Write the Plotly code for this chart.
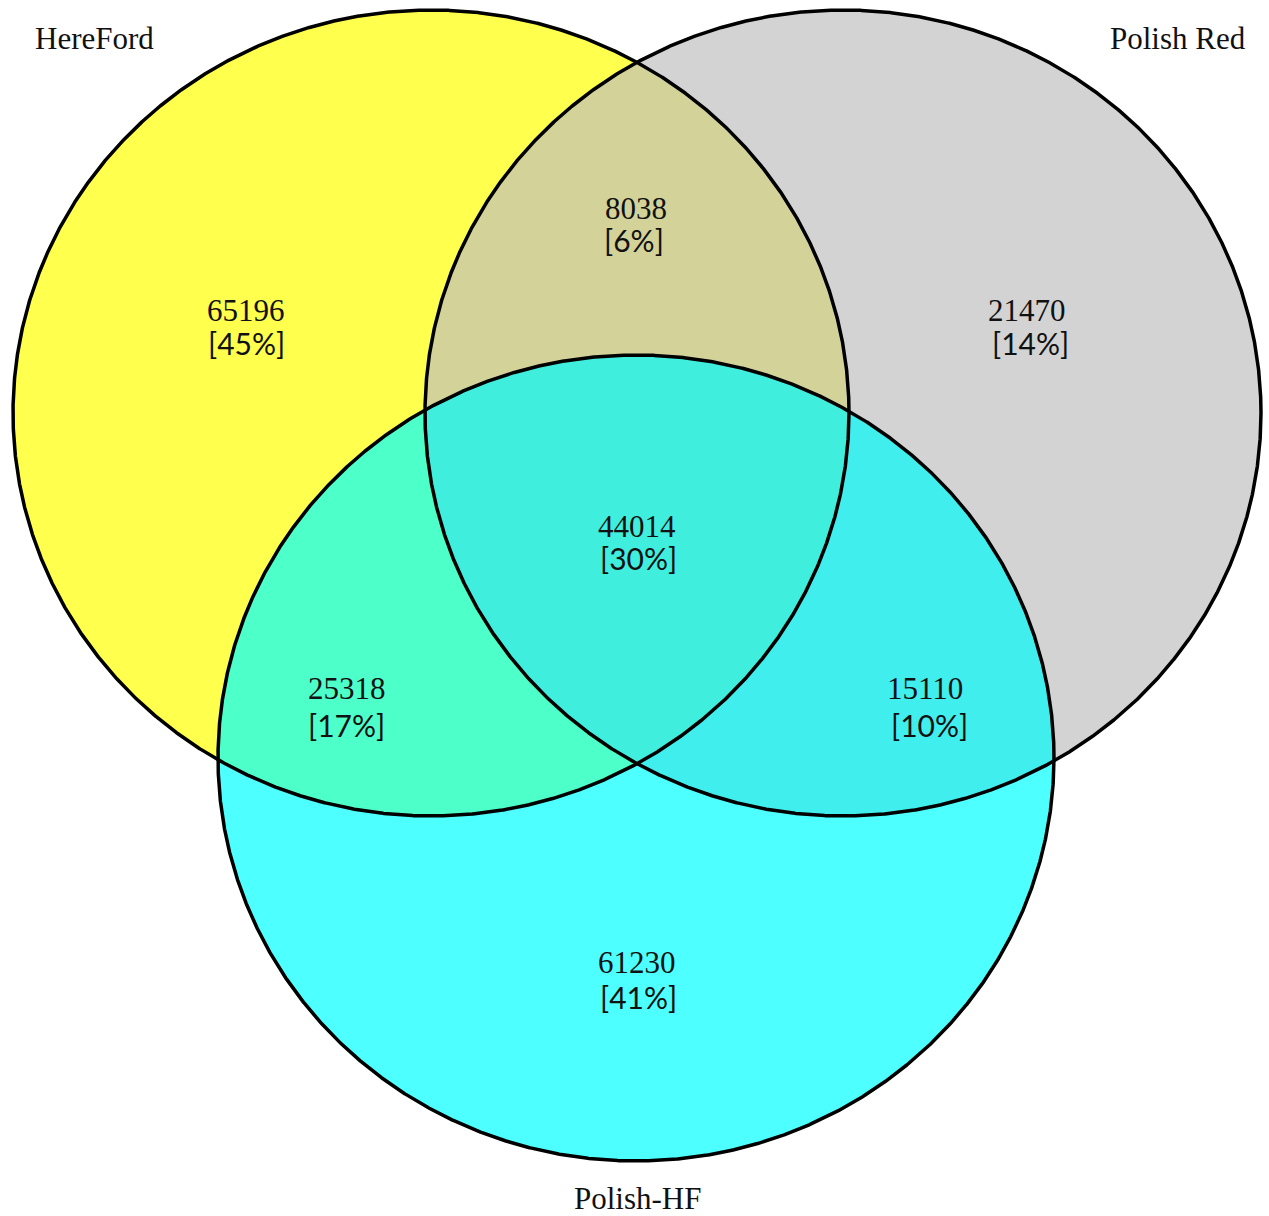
import numpy as np
import plotly.graph_objects as go

# ---- data ----
set_names = ["HereFord", "Polish Red", "Polish-HF"]
region_keys = ["A", "AB", "B", "ABC", "AC", "BC", "C"]
region_counts = [65196, 8038, 21470, 44014, 25318, 15110, 61230]
region_pcts = ["45%", "6%", "14%", "30%", "17%", "10%", "41%"]

# ---- layout / style (pixel space) ----
W, H = 1269, 1216
RX, RY = 418, 403
centers = {"A": (431, 413), "B": (843, 413), "C": (636, 758)}
fills = {
    "A": "#FFFF4D", "B": "#D3D3D3", "C": "#4DFFFF",
    "AB": "#D3D399", "AC": "#4DFFC8", "BC": "#40EEEE", "ABC": "#40EEDD",
}
count_pos = {"A": (246, 310), "AB": (636, 208), "B": (1027, 310), "ABC": (637, 526),
             "AC": (347, 688), "BC": (925, 688), "C": (637, 962)}
pct_pos = {"A": (246, 343), "AB": (634, 240), "B": (1030, 343), "ABC": (638, 558),
           "AC": (346, 725), "BC": (929, 725), "C": (638, 997)}
name_pos = [(94, 38), (1178, 38), (637, 1198)]

t = np.linspace(0, 2 * np.pi, 3000, endpoint=False)


def ell(k):
    cx, cy = centers[k]
    return cx + RX * np.cos(t), cy + RY * np.sin(t)


def inside(k, x, y):
    cx, cy = centers[k]
    return ((x - cx) / RX) ** 2 + ((y - cy) / RY) ** 2 <= 1.0 + 1e-9


def region(keys):
    xs, ys = [], []
    for k in keys:
        x, y = ell(k)
        m = np.ones_like(x, dtype=bool)
        for o in keys:
            if o != k:
                m &= inside(o, x, y)
        xs.append(x[m]); ys.append(y[m])
    x = np.concatenate(xs); y = np.concatenate(ys)
    mx, my = x.mean(), y.mean()
    order = np.argsort(np.arctan2(y - my, x - mx))
    return x[order], y[order]


fig = go.Figure()
for keys in ["A", "B", "C", "AB", "AC", "BC", "ABC"]:
    x, y = region(list(keys))
    fig.add_trace(go.Scatter(x=np.append(x, x[0]), y=np.append(y, y[0]), mode="lines",
                             fill="toself", fillcolor=fills[keys],
                             line=dict(width=0, color=fills[keys]),
                             hoverinfo="skip", showlegend=False))
for k in ["A", "B", "C"]:
    x, y = ell(k)
    fig.add_trace(go.Scatter(x=np.append(x, x[0]), y=np.append(y, y[0]), mode="lines",
                             line=dict(width=3.5, color="black"),
                             hoverinfo="skip", showlegend=False))

num_font = dict(family="Liberation Serif, Times New Roman, serif", size=31, color="#111111")
pct_font = dict(family="Lato, Open Sans, sans-serif", size=30, color="#111111")
name_font = dict(family="Liberation Serif, Times New Roman, serif", size=31, color="#111111")
for k, c, p in zip(region_keys, region_counts, region_pcts):
    fig.add_annotation(x=count_pos[k][0], y=count_pos[k][1], text=str(c), showarrow=False,
                       font=num_font, xanchor="center", yanchor="middle", borderpad=0)
    fig.add_annotation(x=pct_pos[k][0], y=pct_pos[k][1], text=f"[{p}]", showarrow=False,
                       font=pct_font, xanchor="center", yanchor="middle", borderpad=0)
for n, (x, y) in zip(set_names, name_pos):
    fig.add_annotation(x=x, y=y, text=n, showarrow=False, font=name_font,
                       xanchor="center", yanchor="middle")

fig.update_layout(
    width=W, height=H, margin=dict(l=0, r=0, t=0, b=0),
    paper_bgcolor="white", plot_bgcolor="white",
    xaxis=dict(range=[0, W], visible=False, fixedrange=True),
    yaxis=dict(range=[H, 0], visible=False, fixedrange=True),
)
fig.write_html("out.html", config={"displayModeBar": False},
               post_script="document.body.style.margin='0';document.body.style.overflow='hidden';")
